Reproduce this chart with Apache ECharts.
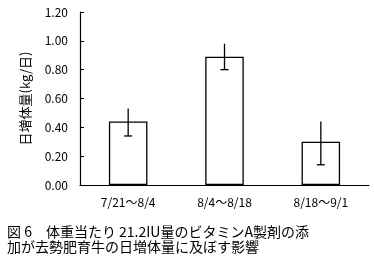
<!DOCTYPE html>
<html><head><meta charset="utf-8">
<script src="https://cdn.jsdelivr.net/npm/echarts@6/dist/echarts.min.js"></script>
<style>html,body{margin:0;padding:0;background:#fff}#c{width:374px;height:261px}</style>
</head><body><div id="c"></div>
<script>
const categories = ['7/21～8/4', '8/4～8/18', '8/18～9/1'];
const means = [0.44, 0.89, 0.30];
const errHigh = [0.53, 0.98, 0.44];
const errLow = [0.34, 0.80, 0.14];
const yTicks = ['0.00','0.20','0.40','0.60','0.80','1.00','1.20'];
const yName = '日増体量(kg/日)';
const caption = ['図 6　体重当たり 21.2IU量のビタミンA製剤の添', '加が去勢肥育牛の日増体量に及ぼす影響'];

const font = '"Noto Sans CJK JP", "Noto Sans", sans-serif';
const chart = echarts.init(document.getElementById('c'));
chart.setOption({
  animation: false,
  grid: { left: 80, right: 5, top: 12, bottom: 76 },
  graphic: [
    { type: 'text', left: 7, top: 224, style: { text: caption.join('\n'), font: '14px ' + font, fill: '#000', lineHeight: 15 } }
  ],
  xAxis: {
    type: 'category', data: categories,
    axisLine: { lineStyle: { color: '#000', width: 1.2 } },
    axisTick: { inside: true, length: 4, lineStyle: { color: '#000' } },
    axisLabel: { color: '#000', fontSize: 12, fontFamily: font, margin: 11 }
  },
  yAxis: {
    type: 'value', min: 0, max: 1.2, interval: 0.2,
    name: yName, nameLocation: 'middle', nameRotate: 90, nameGap: 48,
    nameTextStyle: { color: '#000', fontSize: 13, fontFamily: font },
    axisLine: { show: true, lineStyle: { color: '#000', width: 1.2 } },
    axisTick: { show: true, inside: true, length: 4, lineStyle: { color: '#000' } },
    splitLine: { show: false },
    axisLabel: { color: '#000', fontSize: 12, fontFamily: font, margin: 12,
      formatter: (v) => yTicks[Math.round(v / 0.2)] }
  },
  series: [
    {
      type: 'bar', data: means, barWidth: '40%',
      itemStyle: { color: '#fff', borderColor: '#000', borderWidth: 1.3 }
    },
    {
      type: 'custom',
      data: categories.map((c, i) => [i, errLow[i], errHigh[i]]),
      renderItem: function (params, api) {
        const x = api.coord([api.value(0), 0])[0];
        const lo = api.coord([api.value(0), api.value(1)])[1];
        const hi = api.coord([api.value(0), api.value(2)])[1];
        const style = { stroke: '#000', lineWidth: 1.3 };
        return { type: 'group', children: [
          { type: 'line', shape: { x1: x, y1: hi, x2: x, y2: lo }, style },
          { type: 'line', shape: { x1: x - 4, y1: lo, x2: x + 4, y2: lo }, style }
        ]};
      },
      z: 10
    }
  ]
});
</script></body></html>
